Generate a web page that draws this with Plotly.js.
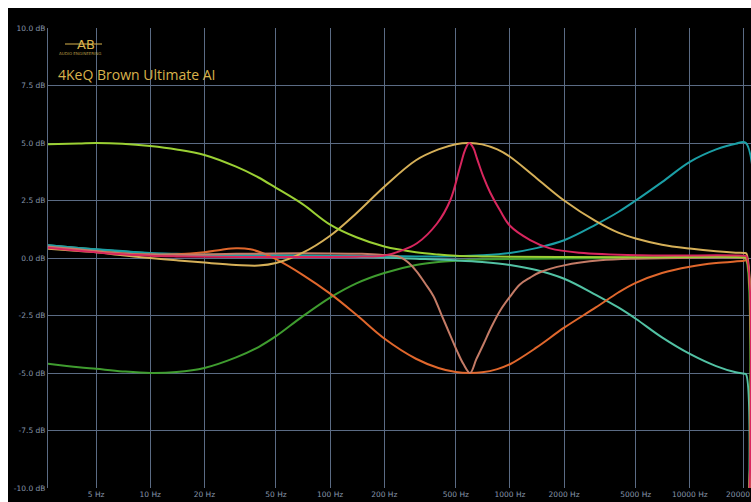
<!DOCTYPE html>
<html>
<head>
<meta charset="utf-8">
<script src="https://cdn.plot.ly/plotly-3.0.1.min.js"></script>
<style>
html,body{margin:0;padding:0;background:#fff;}
#chart{width:751px;height:502px;}
</style>
</head>
<body>
<div id="chart"></div>
<script>
// ---- Data (frequency in Hz, gain in dB) ----
const xTickVals = [5, 10, 20, 50, 100, 200, 500, 1000, 2000, 5000, 10000, 20000];
const xTickText = ["5 Hz", "10 Hz", "20 Hz", "50 Hz", "100 Hz", "200 Hz", "500 Hz", "1000 Hz", "2000 Hz", "5000 Hz", "10000 Hz", "20000 Hz"];
const yTickVals = [-10, -7.5, -5, -2.5, 0, 2.5, 5, 7.5, 10];
const yTickText = ["-10.0 dB", "-7.5 dB", "-5.0 dB", "-2.5 dB", "0.0 dB", "2.5 dB", "5.0 dB", "7.5 dB", "10.0 dB"];

const lowShelfUpF  = [2.7, 4, 5, 7, 10, 14, 20, 30, 40, 50, 70, 100, 140, 200, 300, 400, 500, 700, 1000, 2000, 5000, 20000, 20600, 21300];
const lowShelfUpDb = [4.95, 4.98, 5.0, 4.97, 4.87, 4.72, 4.48, 3.97, 3.5, 3.05, 2.35, 1.45, 0.9, 0.5, 0.25, 0.15, 0.1, 0.07, 0.05, 0.04, 0.03, 0.03, 0.0, -12];

const lowShelfDownF  = [2.7, 4, 5, 7, 10, 14, 20, 30, 40, 50, 70, 100, 140, 200, 300, 400, 500, 700, 1000, 2000, 5000, 20000, 20600, 21300];
const lowShelfDownDb = [-4.6, -4.75, -4.82, -4.93, -5.0, -4.96, -4.78, -4.32, -3.87, -3.4, -2.55, -1.72, -1.1, -0.65, -0.3, -0.17, -0.12, -0.07, -0.04, -0.02, 0, 0, -0.1, -12];

const wideBellUpF  = [2.7, 4, 5, 7, 10, 14, 20, 30, 40, 50, 70, 100, 140, 200, 300, 400, 500, 600, 700, 850, 1000, 1400, 2000, 3000, 4000, 5000, 7000, 10000, 14000, 18000, 20000, 20600, 21300];
const wideBellUpDb = [0.4, 0.3, 0.25, 0.12, 0.0, -0.1, -0.2, -0.3, -0.33, -0.22, 0.22, 0.97, 1.95, 3.1, 4.25, 4.72, 4.95, 5.0, 4.94, 4.72, 4.4, 3.48, 2.5, 1.6, 1.1, 0.85, 0.58, 0.41, 0.29, 0.23, 0.22, 0.2, -12];

const narrowBellUpF  = [2.7, 4, 5, 7, 10, 14, 20, 50, 100, 150, 198, 245, 304, 393, 465, 528, 563, 593, 624, 657, 710, 776, 883, 1000, 1295, 1670, 2440, 5300, 20000, 20600, 21300];
const narrowBellUpDb = [0.45, 0.32, 0.25, 0.16, 0.1, 0.07, 0.05, 0.04, 0.04, 0.06, 0.1, 0.3, 0.64, 1.5, 2.5, 3.97, 4.7, 5.0, 4.8, 4.3, 3.55, 2.85, 2.05, 1.4, 0.78, 0.42, 0.23, 0.12, 0.1, 0.08, -12];

const narrowBellDownF  = [2.7, 4, 5, 7, 10, 14, 20, 30, 50, 100, 150, 190, 245, 272, 304, 337, 375, 415, 465, 508, 550, 600, 650, 712, 788, 883, 1000, 1135, 1295, 1470, 2000, 3170, 5000, 20000, 20600, 21300];
const narrowBellDownDb = [0.5, 0.38, 0.3, 0.2, 0.15, 0.14, 0.15, 0.18, 0.2, 0.2, 0.18, 0.14, 0.04, -0.2, -0.6, -1.1, -1.65, -2.45, -3.35, -4.05, -4.6, -5.0, -4.4, -3.75, -3.0, -2.28, -1.68, -1.15, -0.85, -0.62, -0.32, -0.1, -0.03, 0, -0.02, -12];

const wideBellDownF  = [2.7, 4, 5, 7, 10, 14, 20, 25, 30, 36, 42, 50, 70, 100, 140, 200, 300, 400, 500, 600, 700, 850, 1000, 1400, 2000, 3000, 4000, 5000, 7000, 10000, 14000, 20000, 20600, 21300];
const wideBellDownDb = [0.45, 0.34, 0.28, 0.2, 0.15, 0.16, 0.25, 0.36, 0.42, 0.38, 0.22, -0.05, -0.72, -1.55, -2.47, -3.5, -4.38, -4.78, -4.96, -5.0, -4.97, -4.83, -4.62, -3.9, -3.03, -2.15, -1.5, -1.08, -0.65, -0.38, -0.22, -0.12, -0.1, -12];

const highShelfUpF  = [2.7, 4, 5, 7, 10, 14, 20, 50, 100, 200, 300, 500, 700, 1000, 1400, 2000, 3000, 4000, 5000, 7000, 10000, 14000, 18000, 20500, 21300];
const highShelfUpDb = [0.55, 0.44, 0.38, 0.3, 0.22, 0.18, 0.15, 0.12, 0.1, 0.08, 0.07, 0.08, 0.12, 0.22, 0.43, 0.77, 1.45, 2.0, 2.5, 3.3, 4.18, 4.72, 4.97, 5.0, -12];

const highShelfDownF  = [2.7, 4, 5, 7, 10, 14, 20, 50, 100, 200, 300, 500, 700, 1000, 1400, 2000, 3000, 4000, 5000, 7000, 10000, 14000, 18000, 20000, 20500, 21300];
const highShelfDownDb = [0.55, 0.44, 0.37, 0.28, 0.2, 0.15, 0.12, 0.1, 0.07, 0.02, -0.03, -0.1, -0.17, -0.3, -0.52, -0.9, -1.6, -2.15, -2.64, -3.45, -4.17, -4.7, -4.97, -5.03, -5.05, -12];

// ---- Traces ----
function curve(f, db, color) {
  return {x: f, y: db, type: 'scatter', mode: 'lines',
          line: {color: color, width: 2, shape: 'spline', smoothing: 1},
          hoverinfo: 'skip', showlegend: false};
}
const traces = [
  curve(lowShelfDownF, lowShelfDownDb, '#3f9c2f'),
  curve(highShelfDownF, highShelfDownDb, '#52c2a4'),
  curve(highShelfUpF, highShelfUpDb, '#1b9fa6'),
  curve(wideBellDownF, wideBellDownDb, '#e0672c'),
  curve(narrowBellDownF, narrowBellDownDb, '#c47b66'),
  curve(wideBellUpF, wideBellUpDb, '#d6b058'),
  curve(lowShelfUpF, lowShelfUpDb, '#9bd034'),
  curve(narrowBellUpF, narrowBellUpDb, '#d8265e')
];

const gridCol = '#5b6b84';
const tickFont = {family: 'DejaVu Sans, sans-serif', size: 7.5, color: '#8796ab'};
const gold = '#d9b34c';

const layout = {
  width: 751, height: 502,
  margin: {l: 48, r: 0, t: 28, b: 14, pad: 0},
  paper_bgcolor: '#ffffff',
  plot_bgcolor: '#000000',
  xaxis: {
    type: 'log', range: [Math.log10(2.7), 4.34],
    tickmode: 'array', tickvals: xTickVals, ticktext: xTickText,
    showgrid: true, gridcolor: gridCol, gridwidth: 1,
    zeroline: false, showline: false, ticks: '',
    ticklabeloverflow: 'allow',
    tickfont: tickFont, fixedrange: true
  },
  yaxis: {
    range: [-10, 10],
    tickmode: 'array', tickvals: yTickVals, ticktext: yTickText,
    showgrid: true, gridcolor: gridCol, gridwidth: 1,
    zeroline: false, showline: true, linecolor: gridCol, linewidth: 1,
    ticks: '', tickfont: tickFont, fixedrange: true
  },
  shapes: [
    {type: 'rect', xref: 'paper', yref: 'paper', layer: 'below',
     x0: (8 - 48) / 703, x1: 1.02, y0: -0.05, y1: 1 + 20 / 460,
     fillcolor: '#000000', line: {width: 0}},
    {type: 'line', xref: 'paper', yref: 'paper', layer: 'above',
     x0: (65 - 48) / 703, x1: (102 - 48) / 703, y0: (488 - 44) / 460, y1: (488 - 44) / 460,
     line: {color: gold, width: 1}}
  ],
  annotations: [
    {xref: 'paper', yref: 'paper', x: (86 - 48) / 703, y: (488 - 44) / 460,
     xanchor: 'center', yanchor: 'middle', showarrow: false,
     text: 'AB', font: {family: 'DejaVu Sans, sans-serif', size: 13, color: gold}},
    {xref: 'paper', yref: 'paper', x: (57 - 48) / 703, y: (488 - 53) / 460,
     xanchor: 'left', yanchor: 'middle', showarrow: false,
     text: 'AUDIO ENGINEERING', font: {family: 'DejaVu Sans, sans-serif', size: 4, color: '#b59a45'}},
    {xref: 'paper', yref: 'paper', x: (56 - 48) / 703, y: (488 - 75) / 460,
     xanchor: 'left', yanchor: 'middle', showarrow: false,
     text: '4KeQ Brown Ultimate AI', font: {family: 'Open Sans, sans-serif', size: 14, color: gold}}
  ]
};

Plotly.newPlot('chart', traces, layout, {displayModeBar: false, staticPlot: true});
</script>
</body>
</html>
